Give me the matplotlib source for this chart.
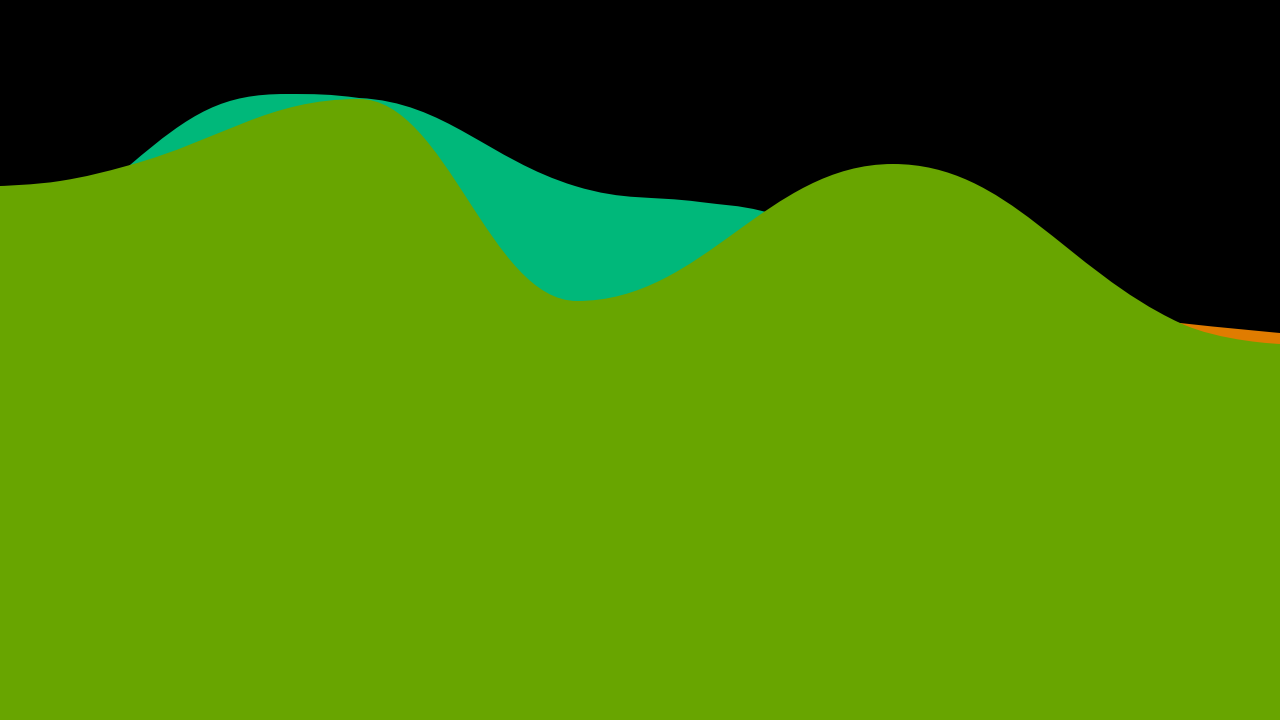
import numpy as np
import matplotlib
matplotlib.use('Agg')
import matplotlib.pyplot as plt
from matplotlib.path import Path
from matplotlib.patches import PathPatch

# ── Data: knots of the three smooth areas (each series has its own x) ────────
orange_x = [0, 300, 600, 900, 1180, 1280]
orange_y = [420, 470, 380, 430, 397, 387]

teal_x = [0, 130, 286, 359, 575, 700, 762, 893, 1180, 1280]
teal_y = [380, 555, 626, 622, 534, 518, 509, 470, 375, 355]

green_x = [0, 60, 130, 359, 577, 893, 1180, 1280]
green_y = [534, 539, 555, 621, 419, 556, 397, 376]

series = [
    ('orange', orange_x, orange_y, '#E07C00'),
    ('teal',   teal_x,   teal_y,   '#00B87A'),
    ('green',  green_x,  green_y,  '#68A500'),
]

SMOOTH = 1.5
DENOM = SMOOTH + 1


def spline_controls(x, y):
    """Left/right bezier handles per point (areaspline style)."""
    n = len(x)
    left = [None] * n
    right = [None] * n
    for i in range(1, n - 1):
        px, py = x[i], y[i]
        lx, ly = x[i - 1], y[i - 1]
        nx, ny = x[i + 1], y[i + 1]
        lcx = (SMOOTH * px + lx) / DENOM
        lcy = (SMOOTH * py + ly) / DENOM
        rcx = (SMOOTH * px + nx) / DENOM
        rcy = (SMOOTH * py + ny) / DENOM
        if rcx != lcx:
            corr = (rcy - lcy) * (rcx - px) / (rcx - lcx) + py - rcy
            lcy += corr
            rcy += corr
        # keep extremes flat, no overshoot
        if lcy > ly and lcy > py:
            lcy = max(ly, py)
            rcy = 2 * py - lcy
        elif lcy < ly and lcy < py:
            lcy = min(ly, py)
            rcy = 2 * py - lcy
        if rcy > ny and rcy > py:
            rcy = max(ny, py)
            lcy = 2 * py - rcy
        elif rcy < ny and rcy < py:
            rcy = min(ny, py)
            lcy = 2 * py - rcy
        left[i] = (lcx, lcy)
        right[i] = (rcx, rcy)
    return left, right


def area_path(x, y, base=0):
    left, right = spline_controls(x, y)
    verts = [(x[0], base), (x[0], y[0])]
    codes = [Path.MOVETO, Path.LINETO]
    for i in range(1, len(x)):
        c1 = right[i - 1] or (x[i - 1], y[i - 1])
        c2 = left[i] or (x[i], y[i])
        verts += [c1, c2, (x[i], y[i])]
        codes += [Path.CURVE4] * 3
    verts += [(x[-1], base), (x[0], base)]
    codes += [Path.LINETO, Path.CLOSEPOLY]
    return Path(verts, codes)


fig = plt.figure(figsize=(12.8, 7.2), dpi=100, facecolor='black')
ax = fig.add_axes([0, 0, 1, 1])
ax.set_facecolor('black')

for name, xs, ys, col in series:
    ax.add_patch(PathPatch(area_path(xs, ys),
                           facecolor=col, edgecolor='none', lw=0))

ax.set_xlim(0, 1280)
ax.set_ylim(0, 720)
ax.axis('off')

plt.savefig('out.png', dpi=100, facecolor='black')
